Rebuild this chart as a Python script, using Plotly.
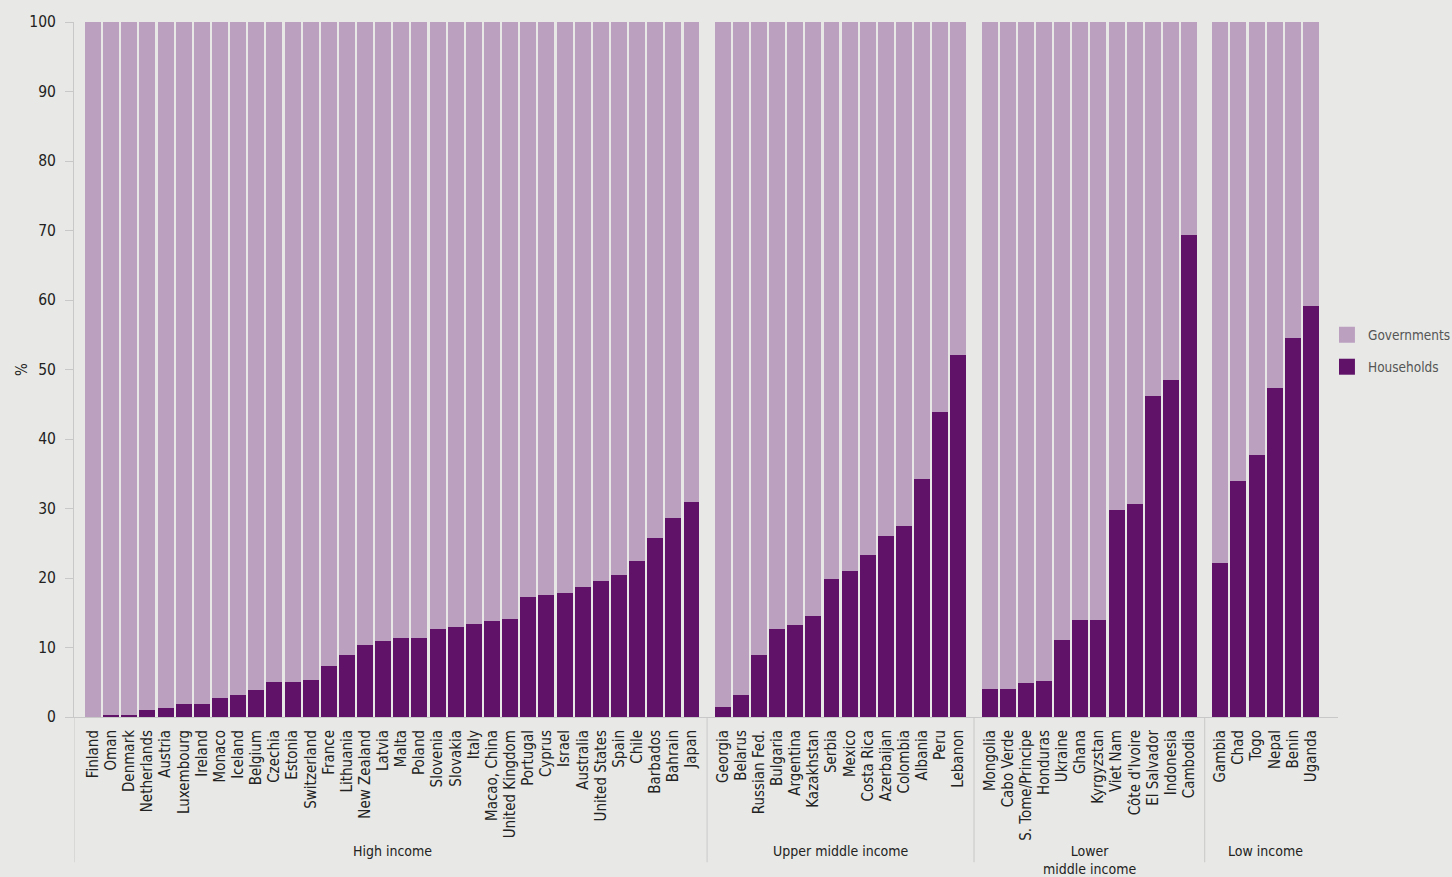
import plotly.graph_objects as go

high_countries = ["Finland", "Oman", "Denmark", "Netherlands", "Austria", "Luxembourg", "Ireland", "Monaco",
                  "Iceland", "Belgium", "Czechia", "Estonia", "Switzerland", "France", "Lithuania", "New Zealand",
                  "Latvia", "Malta", "Poland", "Slovenia", "Slovakia", "Italy", "Macao, China", "United Kingdom",
                  "Portugal", "Cyprus", "Israel", "Australia", "United States", "Spain", "Chile", "Barbados",
                  "Bahrain", "Japan"]
high_households = [0.0, 0.3, 0.3, 1.0, 1.3, 1.8, 1.8, 2.7, 3.2, 3.9, 5.0, 5.0, 5.3, 7.3, 8.9, 10.3,
                   10.9, 11.4, 11.4, 12.6, 12.9, 13.4, 13.8, 14.1, 17.3, 17.6, 17.9, 18.7, 19.6, 20.5, 22.4, 25.8,
                   28.7, 31.0]

upper_countries = ["Georgia", "Belarus", "Russian Fed.", "Bulgaria", "Argentina", "Kazakhstan", "Serbia",
                   "Mexico", "Costa Rica", "Azerbaijan", "Colombia", "Albania", "Peru", "Lebanon"]
upper_households = [1.5, 3.2, 8.9, 12.6, 13.2, 14.6, 19.9, 21.0, 23.3, 26.1, 27.5, 34.3, 43.9, 52.1]

lower_countries = ["Mongolia", "Cabo Verde", "S. Tome/Principe", "Honduras", "Ukraine", "Ghana", "Kyrgyzstan",
                   "Viet Nam", "Côte d'Ivoire", "El Salvador", "Indonesia", "Cambodia"]
lower_households = [4.0, 4.0, 4.9, 5.2, 11.1, 14.0, 14.0, 29.8, 30.7, 46.2, 48.5, 69.4]

low_countries = ["Gambia", "Chad", "Togo", "Nepal", "Benin", "Uganda"]
low_households = [22.2, 33.9, 37.7, 47.3, 54.6, 59.1]

group_names = ["High income", "Upper middle income", "Lower<br>middle income", "Low income"]
group_countries = [high_countries, upper_countries, lower_countries, low_countries]
group_households = [high_households, upper_households, lower_households, low_households]
legend_names = ["Governments", "Households"]

FONT = "DejaVu Sans Condensed, Roboto, sans-serif"
GAP = 0.72
BG = "#e8e9e6"
C_HH = "#5f1267"
C_GOV = "#bba0c0"
AXIS = "#c8c8c8"

xs, labels, hh = [], [], []
group_bounds = []
pos = 0.0
for gi, (cs, vals) in enumerate(zip(group_countries, group_households)):
    if gi > 0:
        pos += GAP
    start = pos
    for c, v in zip(cs, vals):
        xs.append(pos)
        labels.append(c)
        hh.append(v)
        pos += 1
    group_bounds.append((start, pos - 1))
gov = [100 - v for v in hh]

fig = go.Figure()
fig.add_trace(go.Bar(x=xs, y=hh, name="Households", marker=dict(color=C_HH, line=dict(width=0)),
                     width=0.88, showlegend=False))
fig.add_trace(go.Bar(x=xs, y=gov, name="Governments", marker=dict(color=C_GOV, line=dict(width=0)),
                     width=0.88, showlegend=False))

xmin = -1.05
xmax = xs[-1] + 1.49

shapes = []
sep_x = [xmin]
for i in range(1, len(group_bounds)):
    sep_x.append((group_bounds[i - 1][1] + group_bounds[i][0]) / 2)
for sx in sep_x:
    shapes.append(dict(type="line", xref="x", yref="paper", x0=sx, x1=sx, y0=-0.209, y1=0,
                       line=dict(color=AXIS, width=1)))

annotations = []
for name, (a, b) in zip(group_names, group_bounds):
    annotations.append(dict(x=(a + b) / 2, y=-0.178, xref="x", yref="paper", text=name, showarrow=False,
                            xanchor="center", yanchor="top", font=dict(family=FONT, size=14, color="#222"),
                            align="center"))

# legend drawn in paper coordinates
leg_colors = [C_GOV, C_HH]
leg_y = [0.550, 0.504]
for nm, col, yc in zip(legend_names, leg_colors, leg_y):
    shapes.append(dict(type="rect", xref="paper", yref="paper", x0=1.0008, x1=1.0134,
                       y0=yc - 0.0115, y1=yc + 0.0115, fillcolor=col, line=dict(width=0)))
    annotations.append(dict(x=1.0222, y=yc, xref="paper", yref="paper", text=nm, showarrow=False,
                            xanchor="left", yanchor="middle", font=dict(family=FONT, size=13.5, color="#555")))

# y-axis title
annotations.append(dict(x=-0.0411, y=0.4993, xref="paper", yref="paper", text="%", showarrow=False,
                        textangle=-90, xanchor="center", yanchor="middle",
                        font=dict(family=FONT, size=15, color="#222")))

fig.update_layout(
    barmode="stack",
    bargap=0,
    width=1452, height=877,
    paper_bgcolor=BG, plot_bgcolor=BG,
    margin=dict(l=74, r=114, t=22, b=160, autoexpand=False),
    font=dict(family=FONT, size=15, color="#222"),
    shapes=shapes,
    annotations=annotations,
    showlegend=False,
)
fig.update_xaxes(range=[xmin, xmax], tickmode="array", tickvals=xs, ticktext=labels, tickangle=-90,
                 showgrid=False, zeroline=False, showline=True, linecolor=AXIS, linewidth=1,
                 ticks="", ticklabelstandoff=6, tickfont=dict(family=FONT, size=15, color="#222"))
fig.update_yaxes(range=[0, 100], dtick=10, showgrid=False, zeroline=False, showline=True,
                 linecolor=AXIS, linewidth=1, ticks="outside", ticklen=8, tickcolor=AXIS,
                 ticklabelstandoff=6, tickfont=dict(family=FONT, size=15.5, color="#222"))

fig.write_html("out.html", config={"displayModeBar": False},
               post_script="document.body.style.margin='0';document.body.style.overflow='hidden';")
